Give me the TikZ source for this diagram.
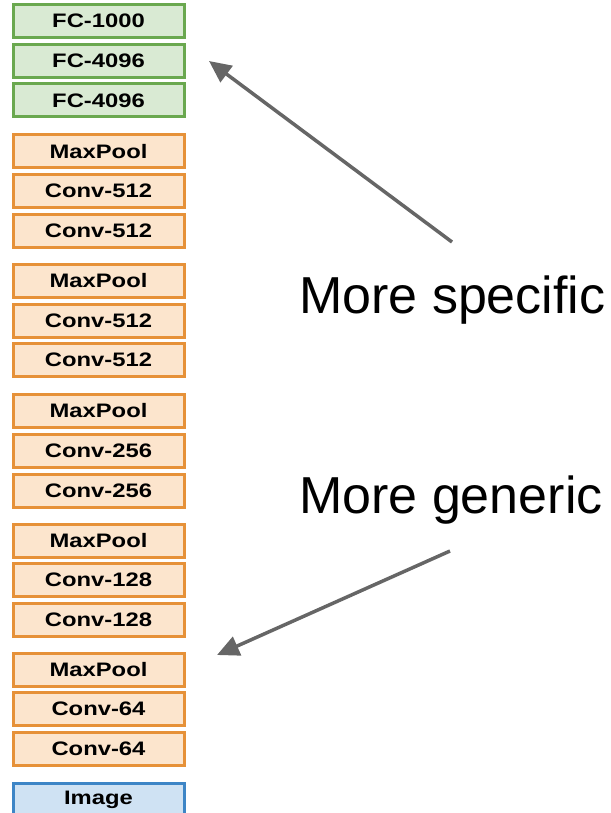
\documentclass[tikz,border=0pt]{standalone}
\usepackage{fontspec}
\setmainfont{Liberation Sans}
\newfontfamily\boxfont{Liberation Sans}[FakeStretch=1.22]
\usetikzlibrary{arrows.meta}
\definecolor{gfill}{HTML}{D9EAD3}
\definecolor{gdraw}{HTML}{6AA84F}
\definecolor{ofill}{HTML}{FCE5CD}
\definecolor{odraw}{HTML}{E69138}
\definecolor{bfill}{HTML}{CFE2F3}
\definecolor{bdraw}{HTML}{3D85C6}
\definecolor{arr}{HTML}{666666}
\tikzset{
  layer/.style={rectangle, minimum width=171pt, minimum height=33pt, inner sep=0pt,
    line width=3pt, font=\boxfont\fontsize{19.5}{19.5}\selectfont\bfseries, text=black},
  glayer/.style={layer, draw=gdraw, fill=gfill},
  olayer/.style={layer, draw=odraw, fill=ofill},
  blayer/.style={layer, draw=bdraw, fill=bfill},
  bigtext/.style={font=\fontsize{52}{52}\selectfont, anchor=base west, inner sep=0pt},
  pointer/.style={draw=arr, line width=3.5pt, -{Triangle[length=22pt,width=20pt]}}
}
\begin{document}
\begin{tikzpicture}[x=1pt,y=-1pt]
\useasboundingbox (0,0) rectangle (610,813);
\node[glayer] (fc1000) at (98.5,21) {FC-1000};
\node[glayer] (fc4096a) at (98.5,61) {FC-4096};
\node[glayer] (fc4096b) at (98.5,100.5) {FC-4096};
\node[olayer] (mp5) at (98.5,151.5) {MaxPool};
\node[olayer] (c512d) at (98.5,191) {Conv-512};
\node[olayer] (c512c) at (98.5,231) {Conv-512};
\node[olayer] (mp4) at (98.5,281) {MaxPool};
\node[olayer] (c512b) at (98.5,321) {Conv-512};
\node[olayer] (c512a) at (98.5,360) {Conv-512};
\node[olayer] (mp3) at (98.5,410.5) {MaxPool};
\node[olayer] (c256b) at (98.5,451) {Conv-256};
\node[olayer] (c256a) at (98.5,490.5) {Conv-256};
\node[olayer] (mp2) at (98.5,541) {MaxPool};
\node[olayer] (c128b) at (98.5,580) {Conv-128};
\node[olayer] (c128a) at (98.5,620) {Conv-128};
\node[olayer] (mp1) at (98.5,670) {MaxPool};
\node[olayer] (c64b) at (98.5,709) {Conv-64};
\node[olayer] (c64a) at (98.5,749) {Conv-64};
\node[blayer] (img) at (98.5,799.5) {Image};
\node[bigtext] (spec) at (299,313) {More specific};
\node[bigtext] (gen) at (299,513) {More generic};
\coordinate (s1) at (452,242);
\coordinate (t1) at (209,61);
\coordinate (s2) at (450,551);
\coordinate (t2) at (217,655);
\draw[pointer] (s1) -- (t1);
\draw[pointer] (s2) -- (t2);
\end{tikzpicture}
\end{document}
